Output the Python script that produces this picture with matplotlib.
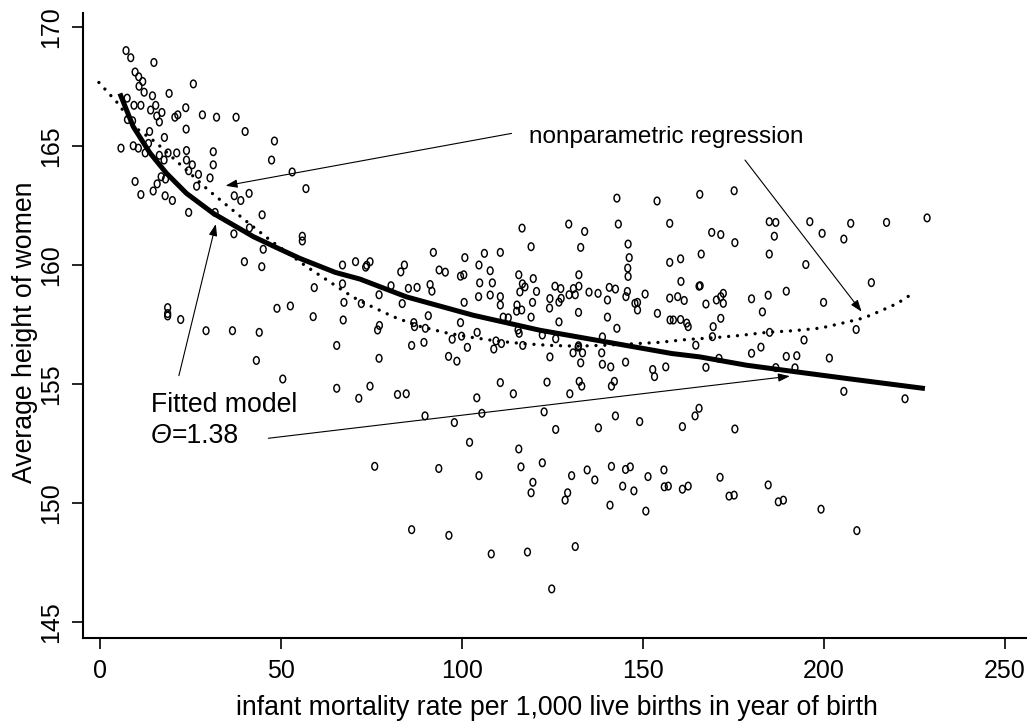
import matplotlib
matplotlib.use("Agg")
import matplotlib.pyplot as plt
from matplotlib.path import Path
from matplotlib.transforms import Affine2D
import numpy as np

plt.rcParams['font.family'] = ['Liberation Sans', 'DejaVu Sans']

# ---------------- data ----------------
imr = [
    7.2, 8.5, 14.9, 9.7, 10.7, 11.8, 10.8, 12.2, 14.5, 25.8, 19.1, 7.5, 9.4, 11.3, 14.0, 15.4,
    17.1, 15.7, 16.4, 20.7, 21.5, 23.7, 28.3, 32.2, 37.6, 40.1, 48.2, 47.4, 53.1, 56.9, 23.8,
    17.8, 13.7, 5.8, 9.2, 10.6, 12.5, 13.4, 16.4, 17.7, 18.8, 21.2, 23.9, 23.9, 25.5, 31.3,
    31.3, 24.5, 27.2, 30.4, 9.7, 14.7, 15.8, 16.9, 18.1, 11.3, 18.0, 20.0, 26.7, 37.1, 38.9,
    41.2, 24.5, 31.8, 44.8, 41.3, 37.0, 55.9, 55.9, 45.1, 7.6, 9.0,
    18.7, 18.7, 18.7, 22.3, 39.9, 44.7, 67.0, 70.6, 59.2, 67.0, 67.4, 48.9, 52.6, 58.9, 67.2,
    29.3, 36.6, 44.0, 65.4, 43.2, 50.5, 65.4, 71.5,
    119.1, 132.8, 145.9, 92.1, 100.8, 106.2, 110.6, 146.2, 73.7, 73.4, 74.6, 84.1, 83.1, 93.7,
    95.4, 104.7, 107.8, 99.6, 100.5, 115.7, 132.3, 157.4, 160.4, 145.8, 145.9, 80.4, 85.2, 87.6,
    91.2, 91.7, 104.9, 108.4, 119.7, 117.4, 116.7, 120.6, 116.0, 125.7, 127.3, 130.8, 132.3,
    129.6, 131.3, 135.1, 137.6, 140.7, 142.4, 145.7, 145.3, 150.6, 165.5, 157.4, 159.6, 161.4,
    72.2, 77.1, 83.5, 100.6, 104.6, 107.8, 110.6, 110.6, 115.2, 115.1, 116.5, 119.5, 124.3,
    124.2, 126.8, 127.4, 132.2, 140.2, 147.8, 148.5, 148.5, 154.0, 158.4, 157.5, 160.4, 162.5,
    162.1, 77.2, 76.7, 90.7, 86.9, 86.7, 89.9, 99.6, 104.2, 97.3, 99.9, 101.5, 86.1, 89.5, 109.4,
    108.8, 111.4, 110.9, 112.8, 115.8, 115.5, 116.8, 122.2, 119.1, 126.8, 125.9, 132.1, 132.2,
    130.7, 133.3, 138.6, 138.8, 140.2, 142.8, 124.3, 132.8, 138.8, 141.1, 145.2, 152.7, 153.2,
    156.3, 164.6, 77.1, 96.3, 98.6, 123.5, 132.4, 133.1, 141.3, 142.1, 129.8, 74.6, 82.2, 84.6,
    104.1, 110.6, 114.2, 105.5, 89.8, 97.9, 122.7, 142.4, 149.1, 137.7, 125.9, 160.9, 164.4,
    165.5, 102.1, 115.7, 75.9, 93.6, 116.3, 122.2, 104.7, 119.6, 130.3, 134.6, 136.7, 141.3,
    145.2, 146.5, 151.4, 155.8, 157.0, 162.5, 144.4,
    119.1, 129.2, 128.5, 147.5, 140.9, 150.8, 155.9, 160.9, 86.1, 96.4, 108.1, 118.1, 131.3, 124.8,
    175.4, 166.1, 184.9, 195.0, 160.5, 165.8, 167.4, 170.3, 172.2, 172.2, 171.5, 180.0, 184.6,
    189.6, 199.9, 213.1, 183.0, 171.5, 169.4, 169.2, 185.0, 194.5, 208.9, 182.6, 180.0, 167.4,
    171.0, 189.6, 192.5, 201.5, 186.7, 192.0, 205.5, 222.4, 175.4, 171.3, 184.6,
    173.8, 175.2, 187.4, 188.8, 199.2, 209.1,
    165.7, 175.2, 169.0, 171.5, 184.9, 186.7, 186.3, 196.1, 199.5, 205.5, 207.4, 217.3, 228.5,
    142.8, 153.9, 116.6, 129.5, 133.9, 143.2, 157.4,
]
height = [
    169.0, 168.7, 168.5, 168.1, 167.9, 167.7, 167.5, 167.25, 167.1, 167.6, 167.2, 167.0, 166.7,
    166.7, 166.5, 166.7, 166.4, 166.25, 166.0, 166.2, 166.3, 166.6, 166.3, 166.2, 166.2, 165.6,
    165.2, 164.4, 163.9, 163.2, 165.7, 165.35, 165.6, 164.9, 165.0, 164.9, 164.7, 165.1, 164.6,
    164.4, 164.7, 164.7, 164.8, 164.4, 164.2, 164.75, 164.2, 163.95, 163.8, 163.65, 163.5, 163.1,
    163.4, 163.7, 163.6, 162.95, 162.9, 162.7, 163.3, 162.9, 162.7, 163.0, 162.2, 162.2, 162.1,
    161.55, 161.3, 161.2, 161.0, 160.65, 166.1, 166.05,
    158.2, 157.95, 157.85, 157.7, 160.13, 159.92, 159.99, 160.13, 159.04, 159.2, 158.42, 158.17,
    158.27, 157.82, 157.68, 157.23, 157.23, 157.16, 156.61, 155.98, 155.2, 154.81, 154.39,
    160.76, 160.73, 160.87, 160.52, 160.3, 160.48, 160.52, 160.3, 159.98, 159.9, 160.13, 159.99,
    159.7, 159.78, 159.69, 159.99, 159.75, 159.52, 159.58, 159.58, 159.58, 160.1, 160.25, 159.86,
    159.51, 159.12, 159.01, 159.05, 159.17, 158.89, 159.24, 159.24, 159.42, 159.07, 159.2, 158.88,
    158.86, 159.1, 159.0, 159.0, 159.1, 158.74, 158.74, 158.85, 158.8, 159.05, 158.98, 158.88,
    158.66, 158.77, 159.1, 158.6, 158.66, 158.5, 158.37, 158.74, 158.37, 158.42, 158.66, 158.73,
    158.66, 158.31, 158.31, 158.05, 158.1, 158.42, 158.58, 158.18, 158.43, 158.59, 158.0, 158.52,
    158.38, 158.1, 158.42, 157.96, 157.68, 157.68, 157.7, 157.4, 157.55, 157.45, 157.26, 157.86,
    157.4, 157.57, 157.33, 157.57, 157.16, 156.87, 157.0, 156.53, 156.61, 156.74, 156.8, 156.46,
    157.8, 156.69, 157.77, 157.12, 157.26, 156.61, 157.05, 157.8, 157.6, 156.89, 156.54, 156.6,
    156.3, 156.3, 156.3, 156.97, 157.8, 157.33, 156.13, 155.88, 155.82, 155.71, 155.91, 155.6,
    155.3, 155.71, 156.62, 156.07, 156.15, 155.95, 155.07, 155.1, 154.9, 154.9, 155.1, 154.58,
    154.9, 154.55, 154.58, 154.41, 155.05, 154.58, 153.76, 153.65, 153.37, 153.82, 153.65, 153.41,
    153.15, 153.08, 153.2, 153.65, 153.97, 152.54, 152.26, 151.53, 151.44, 151.51, 151.68, 151.14,
    150.86, 151.14, 151.38, 150.96, 151.53, 151.4, 151.51, 151.1, 151.38, 150.7, 150.7, 150.7,
    150.42, 150.42, 150.11, 150.5, 149.9, 149.65, 150.67, 150.57, 148.87, 148.63, 147.85, 147.93,
    148.16, 146.38,
    160.93, 160.45, 160.45, 160.01, 159.3, 159.12, 158.35, 158.52, 158.8, 158.38, 158.66, 158.57,
    158.72, 158.89, 158.42, 159.25, 158.02, 157.75, 157.4, 156.98, 157.16, 156.84, 157.28, 156.54,
    156.28, 155.69, 156.07, 156.15, 156.18, 156.08, 155.68, 155.67, 154.68, 154.37, 153.1, 151.07,
    150.75,
    150.28, 150.32, 150.04, 150.11, 149.73, 148.83,
    162.96, 163.11, 161.36, 161.27, 161.81, 161.78, 161.2, 161.81, 161.32, 161.08, 161.74, 161.78,
    161.97,
    162.8, 162.68, 161.54, 161.71, 161.4, 161.71, 161.74,
]

# fitted model (solid)
fit_x = [5.5, 9.2, 13.8, 18.4, 23.9, 31.3, 42.4, 48.8, 55.2, 65.0, 71.8, 84.7, 103.1, 121.5,
         139.8, 158.0, 165.7, 178.6, 192.4, 206.4, 227.9]
fit_y = [167.2, 165.8, 164.7, 163.84, 163.0, 162.16, 161.18, 160.72, 160.27, 159.68, 159.4,
         158.65, 157.88, 157.25, 156.76, 156.27, 156.13, 155.78, 155.5, 155.22, 154.8]

# nonparametric regression (dotted)
np_x = [-0.3, 4.8, 10.1, 15.2, 20.3, 24.9, 29.9, 35.5, 41.4, 47.2, 57.1, 63.5, 69.8, 74.3, 81.0,
        87.9, 95.3, 102.7, 109.9, 117.4, 124.7, 132.0, 139.5, 147.3, 154.5, 162.1, 169.2, 176.8,
        184.2, 191.6, 199.1, 206.3, 211.1, 215.8, 220.3, 224.5]
np_y = [167.66, 166.81, 165.73, 165.17, 164.47, 163.84, 163.14, 162.44, 161.71, 161.01, 159.92,
        159.28, 158.65, 158.3, 157.82, 157.43, 157.15, 156.95, 156.79, 156.68, 156.61, 156.58,
        156.62, 156.68, 156.74, 156.86, 156.93, 157.03, 157.16, 157.23, 157.34, 157.59, 157.77,
        158.07, 158.38, 158.79]

x_ticks = [0, 50, 100, 150, 200, 250]
y_ticks = [145, 150, 155, 160, 165, 170]
x_label = "infant mortality rate per 1,000 live births in year of birth"
y_label = "Average height of women"

# ---------------- figure ----------------
FS_TICK = 18
FS_LABEL = 19.2
FS_NOTE = 17.5
FS_FIT = 19.2

fig = plt.figure(figsize=(10.27, 7.25), dpi=100)
ax = fig.add_axes([0.0805, 0.1204, 0.9195, 0.8617])
ax.set_xlim(-4.78, 256.1)
ax.set_ylim(144.33, 170.58)

ellipse = Path.unit_circle().transformed(Affine2D().scale(0.76, 1.0))
ax.scatter(imr, height, marker=ellipse, s=30, facecolors='none', edgecolors='black',
           linewidths=1.05, zorder=2)

ax.plot(fit_x, fit_y, color='black', lw=3.6, solid_capstyle='butt', zorder=3)
ax.plot(np_x, np_y, color='black', lw=2.4, linestyle=(0, (0.01, 2.65)),
        dash_capstyle='round', zorder=3)

for s in ['top', 'right']:
    ax.spines[s].set_visible(False)
for s in ['left', 'bottom']:
    ax.spines[s].set_linewidth(1.5)

ax.set_xticks(x_ticks)
ax.set_yticks(y_ticks)
ax.tick_params(axis='both', direction='out', length=8, width=1.2, labelsize=FS_TICK)
ax.tick_params(axis='x', pad=7)
ax.tick_params(axis='y', pad=6)
plt.setp(ax.get_yticklabels(), rotation=90, va='center')

ax.set_xlabel(x_label, fontsize=FS_LABEL)
ax.set_ylabel(y_label, fontsize=FS_LABEL)
ax.xaxis.set_label_coords(0.502, -0.112)
ax.yaxis.set_label_coords(-0.061, 0.489)
ax.xaxis.label.set_va('center')
ax.yaxis.label.set_va('center')

arrow_kw = dict(arrowstyle='-|>,head_length=0.7,head_width=0.25', color='black', lw=0.8,
                shrinkA=0, shrinkB=0, mutation_scale=10)

ax.text(118.6, 165.13, "nonparametric regression", fontsize=FS_NOTE, va='baseline', ha='left')
ax.annotate("", xy=(34.7, 163.32), xytext=(113.7, 165.52), arrowprops=arrow_kw)
ax.annotate("", xy=(210.4, 158.03), xytext=(178.2, 164.4), arrowprops=arrow_kw)

ax.text(14.0, 153.8, "Fitted model", fontsize=FS_FIT, va='baseline', ha='left')
ax.text(14.1, 152.5, "Θ", fontsize=FS_FIT, va='baseline', ha='left', fontstyle='italic')
ax.text(19.75, 152.5, "=1.38", fontsize=FS_FIT, va='baseline', ha='left')
ax.annotate("", xy=(32.0, 161.71), xytext=(21.8, 155.34), arrowprops=arrow_kw)
ax.annotate("", xy=(190.6, 155.32), xytext=(46.5, 152.71), arrowprops=arrow_kw)

fig.savefig("out.png", dpi=100)
